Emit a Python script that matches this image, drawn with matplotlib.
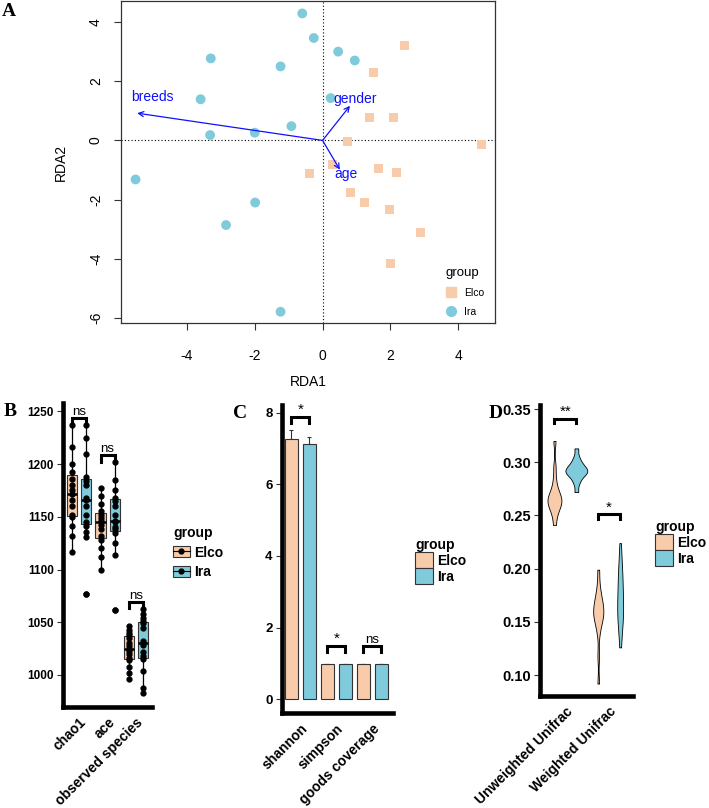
import matplotlib
matplotlib.use('Agg')
import matplotlib.pyplot as plt
import numpy as np
from matplotlib.lines import Line2D
from matplotlib.patches import Patch

plt.rcParams['font.family'] = ['Liberation Sans', 'DejaVu Sans']
plt.rcParams['axes.unicode_minus'] = False

ELCO = '#F8CBAA'
IRA = '#7FCBDB'
groups = ['Elco', 'Ira']

# ---- A: RDA site scores and environmental arrows
elco_rda1 = [0.73, 0.30, -0.40, 0.83, 2.41, 1.49, 1.38, 2.09, 4.70, 1.66, 2.17, 1.24, 1.98, 2.88, 2.00]
elco_rda2 = [-0.03, -0.80, -1.11, -1.77, 3.20, 2.31, 0.79, 0.77, -0.14, -0.94, -1.10, -2.09, -2.32, -3.10, -4.16]
ira_rda1 = [-0.60, -0.26, -3.30, -1.24, -3.60, 0.24, -0.92, -3.32, -2.00, -5.52, -1.99, -2.85, -1.24, 0.46, 0.95]
ira_rda2 = [4.29, 3.46, 2.77, 2.50, 1.39, 1.43, 0.48, 0.18, 0.26, -1.32, -2.10, -2.86, -5.79, 3.00, 2.70]
env_names = ['breeds', 'gender', 'age']
env_rda1 = [-5.47, 0.81, 0.51]
env_rda2 = [0.92, 1.17, -0.99]

# ---- B: alpha richness indices (per sample)
alpha_index = ['chao1', 'ace', 'observed species']
elco_chao1 = [1237, 1216, 1200, 1193, 1186, 1180, 1175, 1172, 1166, 1160, 1152, 1150, 1141, 1132, 1117]
ira_chao1 = [1237, 1225, 1210, 1188, 1184, 1180, 1168, 1166, 1160, 1152, 1145, 1141, 1136, 1131, 1077]
elco_ace = [1177, 1170, 1162, 1156, 1152, 1149, 1146, 1145, 1142, 1138, 1132, 1128, 1120, 1112, 1100]
ira_ace = [1202, 1185, 1175, 1168, 1165, 1160, 1152, 1146, 1145, 1140, 1138, 1135, 1125, 1114, 1062]
elco_obs = [1046, 1043, 1040, 1038, 1035, 1030, 1027, 1025, 1023, 1020, 1016, 1014, 1008, 1002, 996]
ira_obs = [1063, 1058, 1054, 1051, 1049, 1045, 1032, 1030, 1028, 1022, 1018, 1015, 1004, 988, 983]
sig_B = ['ns', 'ns', 'ns']
sig_B_y = [1243.5, 1208.5, 1069.5]

# ---- C: diversity indices (mean + se)
div_index = ['shannon', 'simpson', 'goods coverage']
elco_div_mean = [7.26, 0.975, 0.998]
ira_div_mean = [7.11, 0.975, 0.998]
elco_div_err = [0.25, 0.003, 0.0005]
ira_div_err = [0.22, 0.003, 0.0005]
sig_C = ['*', '*', 'ns']
sig_C_y = [7.87, 1.50, 1.50]

# ---- D: unifrac distances (per sample)
dist_index = ['Unweighted Unifrac', 'Weighted Unifrac']
elco_unw = [0.241, 0.250, 0.255, 0.258, 0.260, 0.262, 0.264, 0.265, 0.267, 0.269, 0.272, 0.276, 0.284, 0.296, 0.320]
ira_unw = [0.272, 0.280, 0.284, 0.287, 0.289, 0.290, 0.291, 0.292, 0.293, 0.295, 0.296, 0.298, 0.301, 0.305, 0.313]
elco_w = [0.092, 0.118, 0.140, 0.148, 0.152, 0.155, 0.157, 0.159, 0.162, 0.165, 0.168, 0.171, 0.176, 0.184, 0.199]
ira_w = [0.126, 0.142, 0.148, 0.153, 0.157, 0.161, 0.165, 0.170, 0.176, 0.182, 0.188, 0.194, 0.200, 0.207, 0.224]
sig_D = ['**', '*']
sig_D_y = [0.341, 0.251]

W, H = 709, 808


def px_rect(x0, y0, x1, y1):
    return [x0 / W, 1 - y1 / H, (x1 - x0) / W, (y1 - y0) / H]


def style_gg(ax):
    for s in ['top', 'right']:
        ax.spines[s].set_visible(False)
    for s in ['left', 'bottom']:
        ax.spines[s].set_linewidth(3.3)
        ax.spines[s].set_color('black')
        ax.spines[s].set_capstyle('projecting')
    ax.tick_params(axis='y', length=4.5, width=0.8, color='#333333', pad=2)
    ax.tick_params(axis='x', length=0, pad=6)


def bracket(ax, x1, x2, y, leg, label, size):
    ax.plot([x1, x1, x2, x2], [y - leg, y, y, y - leg], color='black', lw=2.2,
            solid_joinstyle='miter', clip_on=False, zorder=5)
    ax.text((x1 + x2) / 2, y, label, ha='center', va='bottom', fontsize=size, clip_on=False)


def gg_legend(ax, handles, anchor, hlen, hheight, spacing):
    leg = ax.legend(handles, groups, title='group', frameon=False, loc='upper left',
                    bbox_to_anchor=(anchor[0] / W, 1 - anchor[1] / H), bbox_transform=fig.transFigure,
                    prop={'weight': 'bold', 'size': 10}, title_fontproperties={'weight': 'bold', 'size': 10},
                    handlelength=hlen, handleheight=hheight, labelspacing=spacing, handletextpad=0.3,
                    borderpad=0, borderaxespad=0, alignment='left')
    return leg


fig = plt.figure(figsize=(W / 100, H / 100), dpi=100)

# ================= A =================
axA = fig.add_axes(px_rect(121, 1, 495, 323))
axA.axhline(0, color='black', ls=(0, (1, 2)), lw=0.8, zorder=1)
axA.axvline(0, color='black', ls=(0, (1, 2)), lw=0.8, zorder=1)
axA.scatter(elco_rda1, elco_rda2, marker='s', s=42, color=ELCO, edgecolors='none', zorder=3)
axA.scatter(ira_rda1, ira_rda2, marker='o', s=50, color=IRA, edgecolors='none', zorder=3)
label_shift = [(0.46, 0.53), (0.16, 0.22), (0.18, -0.14)]
for name, x, y, (dx, dy) in zip(env_names, env_rda1, env_rda2, label_shift):
    axA.annotate('', xy=(x, y), xytext=(0, 0),
                 arrowprops=dict(arrowstyle='->', color='#1010FF', lw=0.9, shrinkA=0, shrinkB=0,
                                 mutation_scale=9), zorder=4)
    axA.text(x + dx, y + dy, name, color='#1010FF', fontsize=10, ha='center', va='center', zorder=4)
axA.set_xlim(-5.95, 5.09)
axA.set_ylim(-6.17, 4.71)
axA.set_xticks([-4, -2, 0, 2, 4])
axA.set_yticks([-6, -4, -2, 0, 2, 4])
axA.tick_params(direction='out', length=5, width=0.8, color='#333333', labelsize=10)
axA.tick_params(axis='x', pad=14)
axA.tick_params(axis='y', pad=8, labelrotation=90)
for lab in axA.get_yticklabels():
    lab.set_va('center')
for s in axA.spines.values():
    s.set_color('#333333')
    s.set_linewidth(0.9)
axA.set_xlabel('RDA1', fontsize=10)
axA.set_ylabel('RDA2', fontsize=10)
axA.xaxis.set_label_coords(0.5, -(375 - 323) / 322)
axA.yaxis.set_label_coords(-(121 - 68) / 374, 0.5)
hA = [Line2D([], [], marker='s', ls='none', color=ELCO, ms=6.5),
      Line2D([], [], marker='o', ls='none', color=IRA, ms=7.0)]
axA.legend(hA, groups, title='group', frameon=False, loc='lower right', bbox_to_anchor=(0.972, 0.02),
           fontsize=7.5, title_fontsize=9.5, labelspacing=0.85, handlelength=1.0, handletextpad=0.8,
           borderpad=0, borderaxespad=0, alignment='left')

# ================= B =================
axB = fig.add_axes(px_rect(63, 403, 152, 707))
pos = np.arange(1, 4)
box_sets = [([elco_chao1, elco_ace, elco_obs], -0.25, ELCO), ([ira_chao1, ira_ace, ira_obs], 0.25, IRA)]
for vals, off, col in box_sets:
    axB.boxplot(vals, positions=pos + off, widths=0.36, patch_artist=True, showcaps=False,
                boxprops=dict(facecolor=col, edgecolor='#333333', linewidth=0.8),
                whiskerprops=dict(color='black', linewidth=0.9),
                medianprops=dict(color='black', linewidth=1.8),
                flierprops=dict(marker='o', markerfacecolor='black', markeredgecolor='black', markersize=3.5),
                manage_ticks=False)
    for p, v in zip(pos + off, vals):
        axB.plot(np.full(len(v), p), v, 'o', color='black', ms=3.5, zorder=4)
for i, lab in enumerate(sig_B):
    bracket(axB, pos[i] - 0.25, pos[i] + 0.25, sig_B_y[i], 6, lab, 9.5)
axB.set_xlim(0.43, 3.56)
axB.set_ylim(969.6, 1258)
axB.set_yticks([1000, 1050, 1100, 1150, 1200, 1250], labels=['1000', '1050', '1100', '1150', '1200', '1250'],
               fontsize=8.5, fontweight='bold')
axB.set_xticks(pos, labels=alpha_index, rotation=45, ha='right', va='top', rotation_mode='anchor',
               fontsize=10, fontweight='bold')
style_gg(axB)
hB = [(Patch(facecolor=c, edgecolor='#333333', lw=0.8),
       Line2D([], [], color='black', lw=0.8, marker='o', ms=3.5)) for c in [ELCO, IRA]]
gg_legend(axB, hB, (173, 526), 1.2, 0.8, 0.4)

# ================= C =================
axC = fig.add_axes(px_rect(281.7, 405, 392.7, 713.3))
for means, errs, off, col in [(elco_div_mean, elco_div_err, -0.25, ELCO), (ira_div_mean, ira_div_err, 0.25, IRA)]:
    axC.bar(pos + off, means, width=0.36, color=col, edgecolor='#333333', lw=0.8, zorder=2)
    axC.errorbar(pos + off, means, yerr=[np.zeros(3), errs], fmt='none', ecolor='#333333',
                 elinewidth=0.8, capsize=1.5, capthick=0.8, zorder=1)
for i, lab in enumerate(sig_C):
    bracket(axC, pos[i] - 0.25, pos[i] + 0.25, sig_C_y[i], 0.17, lab, 11 if lab == '*' else 9.5)
axC.set_xlim(0.48, 3.57)
axC.set_ylim(-0.39, 8.21)
axC.set_yticks([0, 2, 4, 6, 8], labels=['0', '2', '4', '6', '8'], fontsize=9.5, fontweight='bold')
axC.set_xticks(pos, labels=div_index, rotation=45, ha='right', va='top', rotation_mode='anchor',
               fontsize=10, fontweight='bold')
style_gg(axC)
hC = [Patch(facecolor=c, edgecolor='#333333', lw=0.8) for c in [ELCO, IRA]]
gg_legend(axC, hC, (415, 538), 1.3, 1.4, 0.0)

# ================= D =================
axD = fig.add_axes(px_rect(540, 405, 633.3, 696))


def kde_nrd0(vals, grid):
    x = np.asarray(vals)
    n = len(x)
    iqr = np.subtract(*np.percentile(x, [75, 25]))
    bw = 0.9 * min(x.std(ddof=1), iqr / 1.34) * n ** -0.2
    z = (grid[:, None] - x[None, :]) / bw
    return np.exp(-0.5 * z ** 2).sum(1) / (n * bw * np.sqrt(2 * np.pi))


violins = [(elco_unw, 1 - 0.25, ELCO), (ira_unw, 1 + 0.25, IRA),
           (elco_w, 2 - 0.25, ELCO), (ira_w, 2 + 0.25, IRA)]
curves = []
for vals, p, col in violins:
    g = np.linspace(min(vals), max(vals), 256)
    curves.append((g, kde_nrd0(vals, g), p, col))
scale = 0.25 / max(d.max() for _, d, _, _ in curves)
for g, d, p, col in curves:
    axD.fill_betweenx(g, p - d * scale, p + d * scale, facecolor=col, edgecolor='black', lw=0.6, zorder=2)
for i, lab in enumerate(sig_D):
    bracket(axD, i + 1 - 0.25, i + 1 + 0.25, sig_D_y[i], 0.004, lab, 11)
axD.set_xlim(0.42, 2.55)
axD.set_ylim(0.0803, 0.3538)
yt = [0.10, 0.15, 0.20, 0.25, 0.30, 0.35]
axD.set_yticks(yt, labels=['%.2f' % v for v in yt], fontsize=10.5, fontweight='bold')
axD.set_xticks([1, 2], labels=dist_index, rotation=45, ha='right', va='top', rotation_mode='anchor',
               fontsize=10, fontweight='bold')
style_gg(axD)
gg_legend(axD, hC, (655, 520), 1.3, 1.4, 0.0)

# panel letters
for letter, x, y in [('A', 2, 12), ('B', 4, 412), ('C', 233, 413), ('D', 489, 413)]:
    fig.text(x / W, 1 - y / H, letter, family='Liberation Serif', fontweight='bold', fontsize=14,
             ha='left', va='center')

fig.savefig('out.png', dpi=100)
